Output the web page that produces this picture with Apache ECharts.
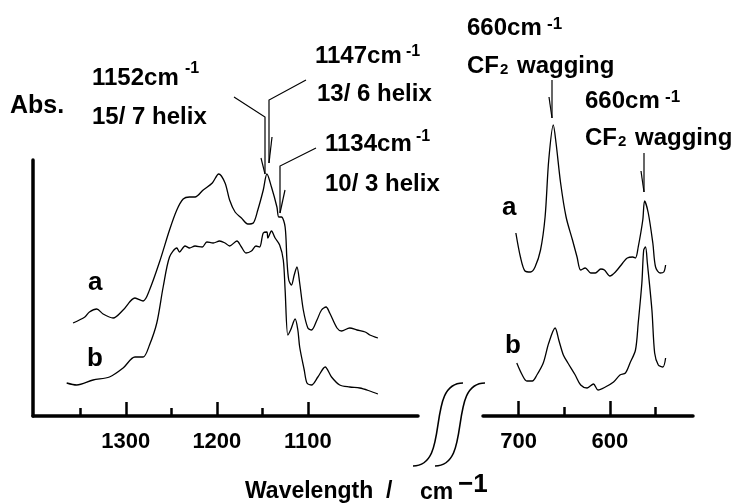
<!DOCTYPE html>
<html>
<head>
<meta charset="utf-8">
<script src="https://cdn.jsdelivr.net/npm/echarts@6.0.0/dist/echarts.min.js"></script>
<style>
  html, body { margin: 0; padding: 0; background: #fff; }
  #main { width: 737px; height: 504px; }
</style>
</head>
<body>
<div id="main"></div>
<script>
// spectrum a / b, 1380-1020 cm-1 region (absorbance, arbitrary units)
const leftWaveA = [1358,1345,1340,1332,1325,1314,1303,1290,1281,1274,1263,1252,1244,1237,1230,1224,1215,1205,1198,1191,1186,1180,1173,1166,1160,1155,1149,1145,1140,1134,1132,1129,1125,1123,1121,1118,1115,1112,1109,1105,1100,1096,1090,1085,1080,1076,1068,1063,1054,1046,1037,1032,1023]
const leftAbsA = [93,99,104,107,102,98,106,118,115,126,154,186,206,217,219,219,226,233,242,233,216,204,198,192,193,206,226,242,229,209,199,199,189,156,136,131,141,149,133,106,88,86,96,106,109,103,88,85,88,86,84,81,78]
const leftWaveB = [1365,1354,1336,1318,1303,1290,1281,1274,1266,1259,1252,1244,1241,1235,1230,1224,1216,1211,1204,1197,1191,1186,1178,1173,1168,1162,1157,1153,1149,1145,1144,1140,1136,1131,1127,1125,1122,1119,1114,1111,1109,1104,1101,1096,1089,1081,1074,1065,1054,1043,1032,1023]
const leftAbsB = [33,31,36,39,48,59,59,71,93,129,159,168,164,170,168,170,169,174,173,175,173,170,175,169,163,165,170,169,183,184,178,185,178,171,156,126,81,86,97,86,69,46,33,31,39,49,39,31,29,28,25,22]

// 720-540 cm-1 region
const rightWaveA = [703,698,693,687,682,676,671,667,662,659,654,648,641,636,632,627,621,616,610,606,600,594,586,581,575,572,569,564,562,558,553,550,545,541,539]
const rightAbsA = [183,159,145,144,149,166,199,256,291,273,233,199,176,159,146,148,143,143,147,146,140,144,153,158,159,158,169,196,215,203,173,149,143,144,151]
const rightWaveB = [702,696,691,685,680,673,667,660,656,651,646,638,632,625,618,613,605,596,589,583,578,572,569,565,563,561,559,554,551,547,542,539]
const rightAbsB = [53,41,35,35,41,53,73,88,76,61,53,41,31,28,32,26,29,34,41,43,53,66,93,133,166,169,153,106,63,51,49,58]

const leftMajorTicks = [1300, 1200, 1100]
const leftMinorTicks = [1350, 1250, 1150]
const rightMajorTicks = [700, 600]
const rightMinorTicks = [650, 550]

const FONT = '"Liberation Sans", Arial, sans-serif'

const pairs = (xs, ys) => xs.map((x, i) => [x, ys[i]])

const chart = echarts.init(document.getElementById("main"))

// text placed by baseline
const label = (text, x, baseline, size) => ({
  type: "text",
  x: x,
  y: baseline - 0.35 * size,
  style: {
    text: text,
    font: "bold " + size + "px " + FONT,
    fill: "#000",
    verticalAlign: "middle",
  },
})

const line = (points, width) => ({
  type: "polyline",
  shape: { points: points },
  style: { stroke: "#000", lineWidth: width || 1.2, fill: null },
})

const xAxisBase = (grid, min, max, ticks, len, withLabel) => ({
  gridIndex: grid,
  type: "value",
  inverse: true,
  min: min,
  max: max,
  position: "bottom",
  axisLine: { show: withLabel, lineStyle: { color: "#000", width: 3.5 } },
  axisTick: {
    show: true,
    inside: true,
    length: len,
    customValues: ticks,
    lineStyle: { color: "#000", width: 2.5 },
  },
  axisLabel: {
    show: withLabel,
    customValues: ticks,
    formatter: (v) => String(v),
    margin: 15,
    fontSize: 22,
    fontWeight: "bold",
    fontFamily: FONT,
    color: "#000",
  },
  splitLine: { show: false },
})

const curve = (data, xi, yi) => ({
  type: "line",
  xAxisIndex: xi,
  yAxisIndex: yi,
  data: data,
  showSymbol: false,
  smooth: 0.3,
  clip: false,
  lineStyle: { color: "#000", width: 1.3 },
  animation: false,
})

// integral-like S curve for the axis break
const breakMark = (x0) => ({
  type: "bezierCurve",
  shape: { x1: x0, y1: 466, cpx1: x0 + 38, cpy1: 466, cpx2: x0 + 12, cpy2: 383, x2: x0 + 50, y2: 383 },
  style: { stroke: "#000", lineWidth: 1.6, fill: null },
})

const option = {
  backgroundColor: "#fff",
  animation: false,
  grid: [
    { left: 33, right: 319, top: 160, bottom: 88, outerBoundsMode: "none" },
    { left: 483, right: 44, top: 60, bottom: 88, outerBoundsMode: "none" },
  ],
  xAxis: [
    xAxisBase(0, 979, 1402, leftMajorTicks, 14, true),
    xAxisBase(0, 979, 1402, leftMinorTicks, 8, false),
    xAxisBase(1, 509, 739, rightMajorTicks, 15, true),
    xAxisBase(1, 509, 739, rightMinorTicks, 9, false),
  ],
  yAxis: [
    {
      gridIndex: 0, type: "value", min: 0, max: 256,
      axisLine: { show: true, lineStyle: { color: "#000", width: 3.5 } },
      axisTick: { show: false }, axisLabel: { show: false }, splitLine: { show: false },
    },
    {
      gridIndex: 1, type: "value", min: 0, max: 356, show: false,
      splitLine: { show: false },
    },
  ],
  series: [
    curve(pairs(leftWaveA, leftAbsA), 0, 0),
    curve(pairs(leftWaveB, leftAbsB), 0, 0),
    curve(pairs(rightWaveA, rightAbsA), 2, 1),
    curve(pairs(rightWaveB, rightAbsB), 2, 1),
  ],
  graphic: [
    label("Abs.", 10, 115, 25),
    label("1152cm", 92, 87, 24),
    label("-1", 185, 74, 16),
    label("15/ 7 helix", 92, 126, 24),
    label("1147cm", 315, 65, 24),
    label("-1", 406, 57, 16),
    label("13/ 6 helix", 317, 103, 24),
    label("1134cm", 325, 153, 24),
    label("-1", 416, 142, 16),
    label("10/ 3 helix", 325, 193, 24),
    label("660cm", 467, 37, 24),
    label("-1", 547, 30, 17),
    label("CF", 467, 75, 24),
    label("2", 500, 75, 15),
    label("wagging", 517, 75, 24),
    label("660cm", 585, 110, 24),
    label("-1", 665, 103, 17),
    label("CF", 585, 147, 24),
    label("2", 618, 147, 15),
    label("wagging", 635, 147, 24),
    label("a", 88, 292, 26),
    label("b", 87, 368, 26),
    label("a", 502, 217, 26),
    label("b", 505, 355, 26),
    label("Wavelength  /", 245, 500, 23),
    label("cm", 420, 501, 23),
    label("\u22121", 458, 494, 26),
    // leader lines with narrow arrow heads
    line([[234, 97], [265, 117], [265, 174]]),
    line([[261, 158], [265, 174]]),
    line([[306, 80], [269, 100], [269, 163]]),
    line([[272, 137], [269, 163]]),
    line([[316, 148], [280, 166], [280, 213]]),
    line([[285, 190], [280, 213]]),
    line([[552, 80], [552, 118]]),
    line([[549, 97], [552, 118]]),
    line([[644, 153], [644, 192]]),
    line([[641, 171], [644, 192]]),
    // axis break marks
    breakMark(413),
    breakMark(435),
  ],
}

option && chart.setOption(option)
</script>
</body>
</html>
